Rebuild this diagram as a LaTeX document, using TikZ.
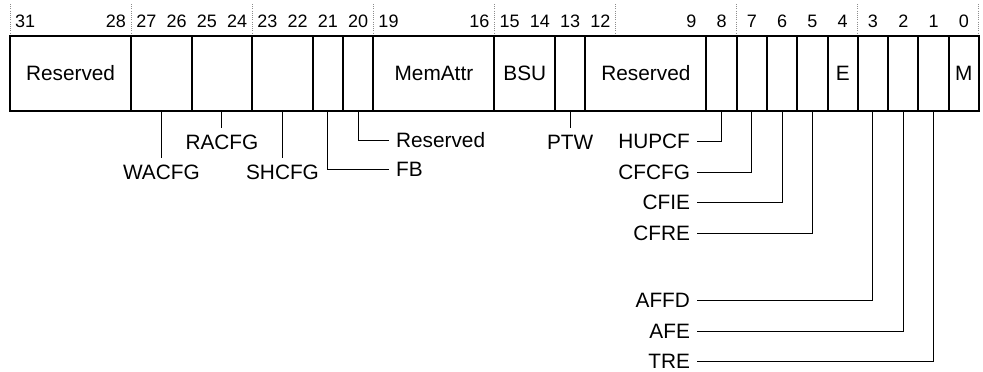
\documentclass[tikz,border=0pt]{standalone}
\usepackage{fontspec}
\setmainfont{Liberation Sans}
\usetikzlibrary{positioning}
\colorlet{guidegray}{black!45}

\tikzset{
  field/.style={draw, line width=1pt, minimum height=37.5pt, inner sep=0pt,
    font=\fontsize{10.4}{12}\selectfont},
  w1/.style={field, minimum width=15.14pt},
  w2/.style={field, minimum width=30.28pt},
  w4/.style={field, minimum width=60.56pt},
  bitnum/.style={inner sep=0pt, font=\fontsize{9}{11}\selectfont},
  lbl/.style={font=\fontsize{10.4}{12}\selectfont},
  lead/.style={line width=0.5pt},
  guide/.style={draw=guidegray, line width=0.5pt, dash pattern=on 0.5pt off 0.6pt}
}

\begin{document}
\begin{tikzpicture}[x=0.5pt, y=-0.5pt]
    \useasboundingbox (0,0) rectangle (983,371);

    % Dotted guides every four bits
    \foreach \k in {0,...,8}
      \draw[guide] ({10+\k*121.12},4) -- ({10+\k*121.12},34);

    % Bit numbers
    \foreach \b in {31,28,27,26,25,24,23,22,21,20,19,16,15,14,13,12,9,8,7,6,5,4,3,2,1,0}
      \node[bitnum] (n\b) at ({10+(31.5-\b)*30.28}, 21) {\b};

    % Register fields
    \node[w4] (f3128) at (70.56, 73.5) {Reserved};
    \node[w2] (f2726) at (161.4, 73.5) {};
    \node[w2] (f2524) at (221.96, 73.5) {};
    \node[w2] (f2322) at (282.52, 73.5) {};
    \node[w1] (f21) at (327.94, 73.5) {};
    \node[w1] (f20) at (358.22, 73.5) {};
    \node[w4] (f1916) at (433.92, 73.5) {MemAttr};
    \node[w2] (f1514) at (524.76, 73.5) {BSU};
    \node[w1] (f13) at (570.18, 73.5) {};
    \node[w4] (f1209) at (645.88, 73.5) {Reserved};
    \node[w1] (f8) at (721.58, 73.5) {};
    \node[w1] (f7) at (751.86, 73.5) {};
    \node[w1] (f6) at (782.14, 73.5) {};
    \node[w1] (f5) at (812.42, 73.5) {};
    \node[w1] (f4) at (842.70, 73.5) {E};
    \node[w1] (f3) at (872.98, 73.5) {};
    \node[w1] (f2) at (903.26, 73.5) {};
    \node[w1] (f1) at (933.54, 73.5) {};
    \node[w1] (f0) at (963.82, 73.5) {M};

    % Labels below the fields
    \node[lbl] (wacfg) at (161.4, 172) {WACFG};
    \node[lbl] (racfg) at (221.96, 142) {RACFG};
    \node[lbl] (shcfg) at (282.52, 172) {SHCFG};
    \node[lbl, anchor=west] (fb) at (389, 169) {FB};
    \node[lbl, anchor=west] (res20) at (389, 140) {Reserved};
    \node[lbl] (ptw) at (570.18, 142) {PTW};

    % Labels on the left of the low bits
    \node[lbl, anchor=east] (hupcf) at (697, 141) {HUPCF};
    \node[lbl, anchor=east] (cfcfg) at (697, 172) {CFCFG};
    \node[lbl, anchor=east] (cfie) at (697, 202.5) {CFIE};
    \node[lbl, anchor=east] (cfre) at (697, 233) {CFRE};
    \node[lbl, anchor=east] (affd) at (697, 300.5) {AFFD};
    \node[lbl, anchor=east] (afe) at (697, 331) {AFE};
    \node[lbl, anchor=east] (tre) at (697, 361.5) {TRE};

    % Leader lines
    \draw[lead] (f2726.south) -- (wacfg.north);
    \draw[lead] (f2524.south) -- (racfg.north);
    \draw[lead] (f2322.south) -- (shcfg.north);
    \draw[lead] (f21.south) |- (fb.west);
    \draw[lead] (f20.south) |- (res20.west);
    \draw[lead] (f13.south) -- (ptw.north);
    \draw[lead] (f8.south) |- (hupcf.east);
    \draw[lead] (f7.south) |- (cfcfg.east);
    \draw[lead] (f6.south) |- (cfie.east);
    \draw[lead] (f5.south) |- (cfre.east);
    \draw[lead] (f3.south) |- (affd.east);
    \draw[lead] (f2.south) |- (afe.east);
    \draw[lead] (f1.south) |- (tre.east);
\end{tikzpicture}
\end{document}
